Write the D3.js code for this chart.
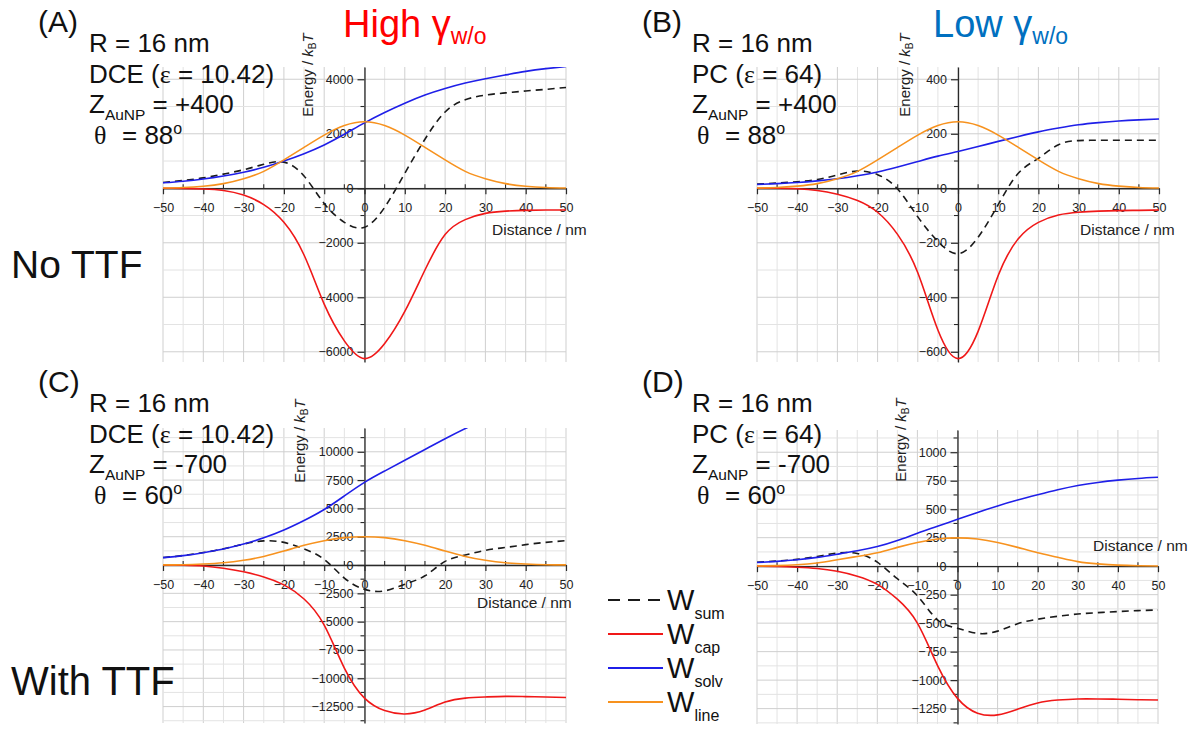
<!DOCTYPE html>
<html><head><meta charset="utf-8">
<script src="https://cdn.jsdelivr.net/npm/d3@7"></script>
<style>
html,body{margin:0;padding:0;background:#fff;}
svg{display:block;font-family:"Liberation Sans",Arial,sans-serif;}
</style></head><body>
<svg id="chart" width="1200" height="729"></svg>
<script>
// ---------------- DATA ----------------
const distance = [-50,-45,-40,-35,-30,-25,-20,-15,-10,-5,0,5,10,15,20,25,30,35,40,45,50];
const xTickLabels = [-50,-40,-30,-20,-10,0,10,20,30,40,50];

// (A) High gamma, no TTF
const aSum  = [210,290,380,520,680,880,960,450,-560,-1250,-1430,-700,550,1800,2800,3250,3420,3500,3570,3630,3700];
const aCap  = [0,-5,-25,-80,-250,-600,-1250,-2450,-4250,-5600,-6250,-5700,-4520,-3000,-1700,-1150,-920,-840,-810,-800,-800];
const aSolv = [200,260,340,450,590,770,1000,1270,1590,1980,2400,2780,3120,3420,3660,3860,4020,4160,4290,4390,4470];
const aLine = [10,30,75,170,350,620,1040,1500,1950,2300,2440,2300,1950,1500,1040,620,350,170,75,30,10];
const aYTicks = [-6000,-4000,-2000,0,2000,4000];

// (B) Low gamma, no TTF
const bSum  = [15,19,24,32,49,63,50,-3,-105,-195,-240,-180,-60,55,110,160,175,176,176,176,176];
const bCap  = [0,0,-2,-8,-22,-45,-88,-170,-310,-520,-625,-525,-320,-185,-125,-98,-88,-84,-82,-81,-80];
const bSolv = [14,17,21,27,35,46,60,78,98,118,135,153,172,190,207,221,233,241,247,251,254];
const bLine = [1,3,8,17,35,62,104,150,195,230,244,230,195,150,104,62,35,17,8,3,1];
const bYTicks = [-600,-400,-200,0,200,400];

// (C) High gamma, with TTF
const cSum  = [660,840,1100,1430,1850,2130,2000,1420,500,-1150,-2150,-2280,-1700,-950,320,880,1300,1550,1800,2000,2150];
const cCap  = [0,-20,-90,-290,-600,-1050,-1750,-3000,-5300,-9100,-11750,-12850,-13150,-12800,-12100,-11750,-11650,-11600,-11620,-11650,-11700];
const cSolv = [650,830,1090,1420,1850,2400,3090,3930,4900,6100,7300,8300,9250,10200,11150,12050,12900,null,null,null,null];
const cLine = [10,30,90,200,420,760,1230,1740,2150,2420,2500,2420,2150,1740,1230,760,420,200,90,30,10];
const cYTicks = [-12500,-10000,-7500,-5000,-2500,0,2500,5000,7500,10000];

// (D) Low gamma, with TTF
const dSum  = [35,45,60,85,115,112,35,-110,-260,-470,-545,-590,-570,-505,-465,-440,-420,-408,-398,-390,-384];
const dCap  = [0,-3,-9,-20,-45,-88,-160,-290,-500,-870,-1160,-1290,-1305,-1255,-1200,-1175,-1165,-1165,-1168,-1172,-1175];
const dSolv = [32,42,56,77,105,135,172,225,289,350,412,472,529,580,626,670,708,735,755,770,780];
const dLine = [2,5,12,28,56,85,118,165,208,238,248,238,208,165,118,78,40,20,9,4,2];
const dYTicks = [-1250,-1000,-750,-500,-250,0,250,500,750,1000];

const seriesNames = ["sum","cap","solv","line"];

// ---------------- STYLE / LAYOUT ----------------
const colors = {sum:"#1a1a1a", cap:"#f01818", solv:"#1f1fe8", line:"#f7921e"};
const dashes = {sum:"7,5", cap:null, solv:null, line:null};

const panels = [
  {key:"A", series:{sum:aSum,cap:aCap,solv:aSolv,line:aLine}, yTicks:aYTicks, yMinor:1000,
   yDomain:[-6375,4450], x0:163, x1:566, top:67, bottom:362,
   yLabel:{x:313, y:75}, dist:{x:492, y:235},
   letter:{x:38, y:32}, info:{x:89, y:52}, lines:["DCE","10.42","+400","88"]},
  {key:"B", series:{sum:bSum,cap:bCap,solv:bSolv,line:bLine}, yTicks:bYTicks, yMinor:100,
   yDomain:[-637.5,445], x0:757, x1:1159, top:67, bottom:362,
   yLabel:{x:910, y:75}, dist:{x:1080, y:235},
   letter:{x:642, y:32}, info:{x:692, y:52}, lines:["PC","64","+400","88"]},
  {key:"C", series:{sum:cSum,cap:cCap,solv:cSolv,line:cLine}, yTicks:cYTicks, yMinor:1250,
   yDomain:[-13950,12100], x0:163, x1:566, top:428, bottom:723,
   yLabel:{x:305, y:441}, dist:{x:477, y:608},
   letter:{x:38, y:392}, info:{x:89, y:412}, lines:["DCE","10.42","-700","60"]},
  {key:"D", series:{sum:dSum,cap:dCap,solv:dSolv,line:dLine}, yTicks:dYTicks, yMinor:125,
   yDomain:[-1385,1195], x0:757, x1:1158, top:430, bottom:724,
   yLabel:{x:906, y:440}, dist:{x:1093, y:551},
   letter:{x:642, y:392}, info:{x:692, y:412}, lines:["PC","64","-700","60"]}
];

const svg = d3.select("#chart");
const defs = svg.append("defs");
const serif = '"Liberation Serif","Times New Roman",serif';

panels.forEach((p) => {
  const x = d3.scaleLinear().domain([-50,50]).range([p.x0,p.x1]);
  const y = d3.scaleLinear().domain(p.yDomain).range([p.bottom,p.top]);
  const g = svg.append("g");

  // grid
  const xGrid = d3.range(-50, 50.01, 5);
  g.selectAll(null).data(xGrid).enter().append("line")
    .attr("x1", d=>x(d)).attr("x2", d=>x(d)).attr("y1", p.top).attr("y2", p.bottom)
    .attr("stroke", d => d % 10 === 0 ? "#cfcfcf" : "#e3e3e3").attr("stroke-width", 1);
  const yGrid = d3.range(Math.ceil(p.yDomain[0]/p.yMinor)*p.yMinor, p.yDomain[1]+1e-6, p.yMinor);
  const isMajor = v => p.yTicks.some(t => Math.abs(t - v) < 1e-6);
  g.selectAll(null).data(yGrid).enter().append("line")
    .attr("x1", p.x0).attr("x2", p.x1).attr("y1", d=>y(d)).attr("y2", d=>y(d))
    .attr("stroke", d => isMajor(d) ? "#cfcfcf" : "#e3e3e3").attr("stroke-width", 1);

  // axes through zero
  const xAxis = d3.axisBottom(x).tickValues(xTickLabels).tickSize(6).tickSizeOuter(0).tickPadding(9);
  const gx = g.append("g").attr("transform", `translate(0,${y(0)})`).call(xAxis);
  gx.select(".domain").attr("stroke","#2a2a2a").attr("stroke-width",1.3);
  gx.selectAll(".tick line").attr("stroke","#2a2a2a").attr("stroke-width",1.2);
  gx.selectAll(".tick text").attr("font-size","12.5px").attr("fill","#222")
    .attr("font-family",'"Liberation Sans",Arial,sans-serif');
  const xMinor = d3.range(-45, 50, 10);
  gx.selectAll(null).data(xMinor).enter().append("line")
    .attr("x1", d=>x(d)).attr("x2", d=>x(d)).attr("y1", 0).attr("y2", -4)
    .attr("stroke","#2a2a2a").attr("stroke-width",1.1);

  const yAxis = d3.axisLeft(y).tickValues(p.yTicks).tickSize(7).tickSizeOuter(0).tickPadding(4)
    .tickFormat(d3.format("d"));
  const gy = g.append("g").attr("transform", `translate(${x(0)},0)`).call(yAxis);
  gy.select(".domain").attr("stroke","#2a2a2a").attr("stroke-width",1.3);
  gy.selectAll(".tick line").attr("stroke","#2a2a2a").attr("stroke-width",1.2);
  gy.selectAll(".tick text").attr("font-size","12.5px").attr("fill","#222")
    .attr("font-family",'"Liberation Sans",Arial,sans-serif');
  const yMinorTicks = yGrid.filter(v => !isMajor(v));
  gy.selectAll(null).data(yMinorTicks).enter().append("line")
    .attr("x1", 0).attr("x2", -4).attr("y1", d=>y(d)).attr("y2", d=>y(d))
    .attr("stroke","#2a2a2a").attr("stroke-width",1.1);

  // curves
  const clipId = "clip" + p.key;
  defs.append("clipPath").attr("id", clipId).append("rect")
    .attr("x", p.x0-2).attr("y", p.top).attr("width", p.x1-p.x0+4).attr("height", p.bottom-p.top);
  const line = d3.line().defined(d => d[1] != null)
    .x(d => x(d[0])).y(d => y(d[1])).curve(d3.curveNatural);
  const cg = g.append("g").attr("clip-path", `url(#${clipId})`);
  seriesNames.forEach(s => {
    const pts = distance.map((dx,i) => [dx, p.series[s][i]]);
    cg.append("path").attr("d", line(pts)).attr("fill","none")
      .attr("stroke", colors[s]).attr("stroke-width", 1.6)
      .attr("stroke-dasharray", dashes[s]);
  });

  // y label
  const yl = g.append("text").attr("transform", `translate(${p.yLabel.x},${p.yLabel.y}) rotate(-90)`)
    .attr("text-anchor","middle").attr("font-size","15px").attr("fill","#222");
  yl.append("tspan").text("Energy / ");
  yl.append("tspan").attr("font-style","italic").text("k");
  yl.append("tspan").attr("font-size","10px").attr("dy", 3).text("B");
  yl.append("tspan").attr("font-style","italic").attr("dy", -3).text("T");

  // x label
  g.append("text").attr("x", p.dist.x).attr("y", p.dist.y).attr("font-size","15.5px")
    .attr("fill","#222").text("Distance / nm");

  // panel letter
  g.append("text").attr("x", p.letter.x).attr("y", p.letter.y).attr("font-size","30px")
    .attr("fill","#111").text(`(${p.key})`);

  // info block
  const ix = p.info.x, iy = p.info.y, fs = 26;
  g.append("text").attr("x", ix).attr("y", iy).attr("font-size", fs+"px").attr("fill","#111").text("R = 16 nm");
  const t2 = g.append("text").attr("x", ix).attr("y", iy+31).attr("font-size", fs+"px").attr("fill","#111");
  t2.append("tspan").text(p.lines[0] + " (");
  t2.append("tspan").attr("font-family", serif).text("ε");
  t2.append("tspan").text(" = " + p.lines[1] + ")");
  const t3 = g.append("text").attr("x", ix).attr("y", iy+61).attr("font-size", fs+"px").attr("fill","#111");
  t3.append("tspan").text("Z");
  t3.append("tspan").attr("font-size","15.5px").attr("dy", 7).text("AuNP");
  t3.append("tspan").attr("dy", -7).text(" = " + p.lines[2]);
  const t4 = g.append("text").attr("x", ix+5).attr("y", iy+92).attr("font-size", fs+"px").attr("fill","#111");
  t4.append("tspan").attr("font-family", serif).text("θ");
  t4.append("tspan").attr("x", ix+33).text("= " + p.lines[3]);
  t4.append("tspan").attr("font-size","16px").attr("dy", -10).text("o");
});

// titles
const title1 = svg.append("text").attr("x", 343).attr("y", 37).attr("font-size","38px").attr("fill","#ff0000");
title1.append("tspan").text("High γ");
title1.append("tspan").attr("font-size","23px").attr("dy", 7).text("w/o");
const title2 = svg.append("text").attr("x", 933).attr("y", 37).attr("font-size","38px").attr("fill","#0070c0");
title2.append("tspan").text("Low γ");
title2.append("tspan").attr("font-size","23px").attr("dy", 7).text("w/o");

// row labels
svg.append("text").attr("x", 11).attr("y", 278).attr("font-size","39px").attr("fill","#111").text("No TTF");
svg.append("text").attr("x", 11).attr("y", 695).attr("font-size","40px").attr("fill","#111").text("With TTF");

// legend
const legendNames = {sum:"sum", cap:"cap", solv:"solv", line:"line"};
seriesNames.forEach((s, i) => {
  const ly = 600 + i*34;
  svg.append("line").attr("x1", 608).attr("x2", 663).attr("y1", ly).attr("y2", ly)
    .attr("stroke", colors[s]).attr("stroke-width", 1.8).attr("stroke-dasharray", dashes[s] ? "12,8" : null);
  const t = svg.append("text").attr("x", 667).attr("y", ly+10).attr("font-size","29px").attr("fill","#111");
  t.append("tspan").text("W");
  t.append("tspan").attr("font-size","16px").attr("dy", 9).text(legendNames[s]);
});
</script>
</body></html>
